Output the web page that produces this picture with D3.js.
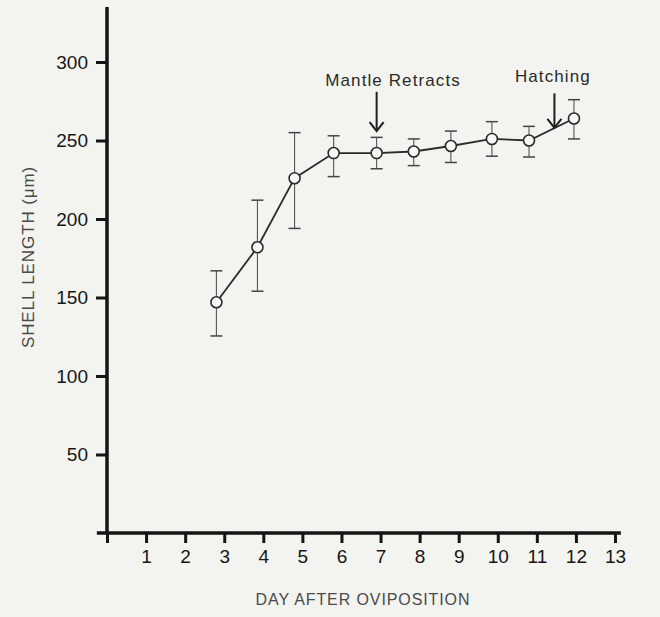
<!DOCTYPE html>
<html>
<head>
<meta charset="utf-8">
<script src="https://cdn.jsdelivr.net/npm/d3@7"></script>
<style>
    html, body { margin: 0; padding: 0; background: #f3f4ef; }
    svg { display: block; }
    .tick text { font-family: "Liberation Sans", Arial, sans-serif; font-size: 19px; fill: #161616; }
    .axisText { font-family: "Liberation Sans", Arial, sans-serif; font-size: 15px; fill: #4a4a4a; letter-spacing: 0.9px; }
    .note { font-family: "Liberation Sans", Arial, sans-serif; font-size: 17px; fill: #2a2a2a; letter-spacing: 1.1px; }
</style>
</head>
<body>
<div id="chart"></div>
<script>
// Data
var days = [2.8, 3.85, 4.8, 5.8, 6.9, 7.85, 8.8, 9.85, 10.8, 11.95];
var shellLength = [147, 182, 226, 242, 242, 243, 246.5, 251, 250, 264];
var errLow = [125.5, 154, 194, 227, 232, 234, 236, 240, 239.5, 251];
var errHigh = [167, 212, 255, 253, 252, 251, 256, 262, 259, 276];

var xTicks = [0, 1, 2, 3, 4, 5, 6, 7, 8, 9, 10, 11, 12, 13];
var yTicks = [50, 100, 150, 200, 250, 300];

var noteLabels = ["Mantle Retracts", "Hatching"];
var noteDays = [6.9, 11.45];      // arrow position
var noteTextDays = [7.32, 11.41]; // text centre
var noteTop = [281, 280];         // arrow tail
var noteTip = [256, 258];         // arrow point
var noteTextValue = [285, 287];

var svgWidth = 660;
var svgHeight = 617;

var svg = d3.select("#chart")
    .append("svg")
    .attr("width", svgWidth)
    .attr("height", svgHeight);

var xScale = d3.scaleLinear().domain([0, 13]).range([107, 615]);
var yScale = d3.scaleLinear().domain([0, 300]).range([533, 62]);

// Axes
var yAxis = d3.axisLeft(yScale)
    .tickValues(yTicks)
    .tickSize(11)
    .tickPadding(8);

var xAxis = d3.axisBottom(xScale)
    .tickValues(xTicks)
    .tickSize(10)
    .tickPadding(7)
    .tickFormat(function(d) { return d === 0 ? "" : d; });

var gy = svg.append("g")
    .attr("transform", `translate(${xScale(0)}, 0)`)
    .call(yAxis);

var gx = svg.append("g")
    .attr("transform", `translate(0, ${yScale(0)})`)
    .call(xAxis);

[gx, gy].forEach(function(g) {
    g.select(".domain").remove();
    g.selectAll(".tick line").attr("stroke", "#151515").attr("stroke-width", 3);
});

// axis lines drawn by hand so they run past the ticks like the original
svg.append("line")
    .attr("x1", xScale(0)).attr("x2", xScale(0))
    .attr("y1", yScale(335)).attr("y2", yScale(0))
    .attr("stroke", "#151515")
    .attr("stroke-width", 3.5);

svg.append("line")
    .attr("x1", xScale(-0.26)).attr("x2", xScale(13.15))
    .attr("y1", yScale(0)).attr("y2", yScale(0))
    .attr("stroke", "#151515")
    .attr("stroke-width", 3.5);

// Error bars
var bars = svg.append("g");
days.forEach(function(d, i) {
    var cx = xScale(d);
    bars.append("line")
        .attr("x1", cx).attr("x2", cx)
        .attr("y1", yScale(errLow[i])).attr("y2", yScale(errHigh[i]))
        .attr("stroke", "#555").attr("stroke-width", 1.1);
    [errLow[i], errHigh[i]].forEach(function(v) {
        bars.append("line")
            .attr("x1", cx - 6).attr("x2", cx + 6)
            .attr("y1", yScale(v)).attr("y2", yScale(v))
            .attr("stroke", "#444").attr("stroke-width", 1.5);
    });
});

// Line
var line = d3.line()
    .x(function(d, i) { return xScale(days[i]); })
    .y(function(d) { return yScale(d); });

svg.append("path")
    .datum(shellLength)
    .attr("d", line)
    .attr("fill", "none")
    .attr("stroke", "#2b2b2b")
    .attr("stroke-width", 1.8);

// Points
svg.selectAll("circle")
    .data(shellLength)
    .enter()
    .append("circle")
    .attr("cx", function(d, i) { return xScale(days[i]); })
    .attr("cy", function(d) { return yScale(d); })
    .attr("r", 5.5)
    .attr("fill", "#f7f8f4")
    .attr("stroke", "#2b2b2b")
    .attr("stroke-width", 1.6);

// Annotations with arrows
noteLabels.forEach(function(label, i) {
    var ax = xScale(noteDays[i]);
    var y1 = yScale(noteTop[i]);
    var y2 = yScale(noteTip[i]);
    svg.append("line")
        .attr("x1", ax).attr("x2", ax)
        .attr("y1", y1).attr("y2", y2)
        .attr("stroke", "#1e1e1e").attr("stroke-width", 2);
    svg.append("path")
        .attr("d", `M${ax - 7},${y2 - 9} L${ax},${y2} L${ax + 7},${y2 - 9}`)
        .attr("fill", "none")
        .attr("stroke", "#1e1e1e").attr("stroke-width", 2);
    svg.append("text")
        .attr("class", "note")
        .attr("x", xScale(noteTextDays[i]))
        .attr("y", yScale(noteTextValue[i]))
        .attr("text-anchor", "middle")
        .text(label);
});

// Axis labels
svg.append("text")
    .attr("class", "axisText")
    .attr("transform", `translate(34, 257) rotate(-90)`)
    .attr("text-anchor", "middle")
    .style("font-size", "17px")
    .text("SHELL LENGTH (μm)");

svg.append("text")
    .attr("class", "axisText")
    .attr("x", 363)
    .attr("y", 605)
    .attr("text-anchor", "middle")
    .style("font-size", "16px")
    .text("DAY AFTER OVIPOSITION");
</script>
</body>
</html>
